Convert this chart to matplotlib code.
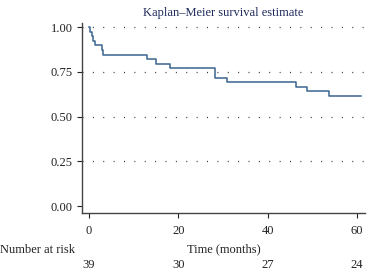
import matplotlib
matplotlib.use("Agg")
import matplotlib.pyplot as plt
import numpy as np

plt.rcParams['font.family'] = ['Liberation Serif', 'DejaVu Serif']

# Data
event_times = [0.3, 0.6, 1.0, 1.3, 2.8, 3.2, 12.9, 15.1, 18.1, 28.2, 28.2, 31.0, 46.3, 48.8, 53.7]
n_total = 39
end_time = 60.9
risk_times = [0, 20, 40, 60]
risk_counts = [39, 30, 27, 24]
xticks = [0, 20, 40, 60]
yticks = [0.00, 0.25, 0.50, 0.75, 1.00]

# Kaplan-Meier estimate (no censoring observed)
ut = sorted(set(event_times))
t_steps = [0.0]
s_steps = [1.0]
at_risk = n_total
s = 1.0
for t in ut:
    d = event_times.count(t)
    s *= (at_risk - d) / at_risk
    at_risk -= d
    t_steps.append(t)
    s_steps.append(s)
t_steps.append(end_time)
s_steps.append(s)

fs = 9
fig = plt.figure(figsize=(3.68, 2.72), dpi=100)
ax = fig.add_axes([0.2228, 0.218, 0.992 - 0.2228, 0.915 - 0.218])

for yv in yticks[1:]:
    ax.axhline(yv, color='#333333', lw=0.9, ls=(0, (0.8, 7.5)), zorder=1)

ax.step(t_steps, s_steps, where='post', color='#3b6591', lw=1.1, zorder=3)

ax.set_xlim(-1.57, 61.8)
ax.set_ylim(-0.037, 1.022)
ax.set_xticks(xticks)
ax.set_yticks(yticks)
ax.set_yticklabels([f"{v:.2f}" for v in yticks])
ax.tick_params(axis='both', labelsize=fs, colors='#222222', length=3.5, width=0.8, pad=3)
ax.tick_params(axis='x', pad=5)
for sp in ['top', 'right']:
    ax.spines[sp].set_visible(False)
for sp in ['left', 'bottom']:
    ax.spines[sp].set_color('#444444')
    ax.spines[sp].set_linewidth(1.0)

ax.set_title("Kaplan\u2013Meier survival estimate", fontsize=fs, color='#1f2a5c', pad=5)
ax.set_xlabel("Time (months)", fontsize=fs, color='#222222', labelpad=5)

trans = matplotlib.transforms.blended_transform_factory(ax.transData, fig.transFigure)
for t, n in zip(risk_times, risk_counts):
    ax.text(t, 1 - 265 / 272, str(n), transform=trans, ha='center', va='center',
            fontsize=fs, color='#222222', clip_on=False)
fig.text(0.0, 1 - 250 / 272, "Number at risk", ha='left', va='center', fontsize=fs, color='#222222')

fig.savefig("out.png", dpi=100)
